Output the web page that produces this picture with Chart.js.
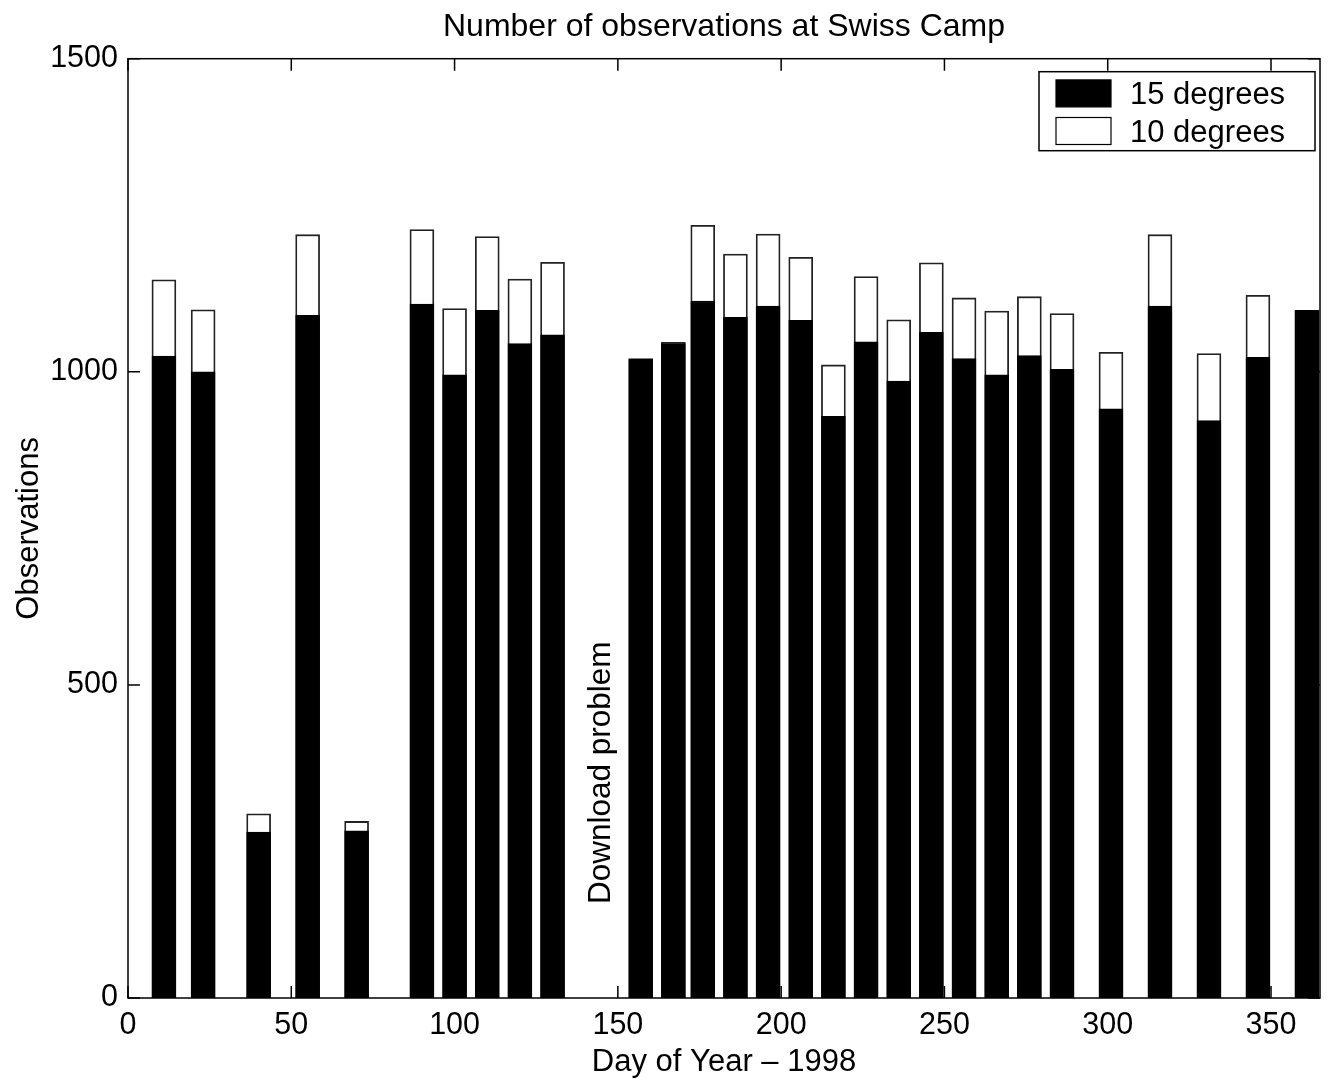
<!DOCTYPE html>
<html lang="en">
<head>
  <meta charset="UTF-8">
  <title>Number of observations at Swiss Camp</title>
  <script src="https://cdn.jsdelivr.net/npm/chart.js"></script>
  <style>
    body {
      margin: 0;
      background: #fff;
    }
    #wrap {
      width: 1332px;
      height: 1082px;
    }
  </style>
</head>
<body>
  <div id="wrap">
    <canvas id="obsChart" width="1332" height="1082"></canvas>
  </div>
  <script>
    // day of year for each bar
    const days = [11, 23, 40, 55, 70, 90, 100, 110, 120, 130,
                  157, 167, 176, 186, 196, 206, 216, 226, 236, 246,
                  256, 266, 276, 286, 301, 316, 331, 346, 361];
    // observations at 15 degrees (black)
    const obs15 = [1025, 1000, 265, 1090, 267, 1108, 995, 1098, 1045, 1059,
                   1020, 1045, 1113, 1087, 1105, 1082, 929, 1048, 985, 1063,
                   1021, 995, 1026, 1004, 941, 1105, 922, 1023, 1098];
    // observations at 10 degrees (white, drawn behind)
    const obs10 = [1147, 1099, 294, 1219, 282, 1227, 1101, 1216, 1148, 1175,
                   1021, 1047, 1234, 1188, 1220, 1183, 1011, 1152, 1083, 1174,
                   1118, 1097, 1120, 1093, 1031, 1219, 1029, 1122, 1098];
    const xTicks = [0, 50, 100, 150, 200, 250, 300, 350];
    const yTicks = [0, 500, 1000, 1500];
    const note = { x: 145, y: 150, text: 'Download problem' };

    const FONT = "'Liberation Sans', Arial, Helvetica, sans-serif";

    // box, inward tick marks, legend and the text note
    const framePlugin = {
      id: 'frame',
      afterDatasetsDraw(chart) {
        const ctx = chart.ctx;
        const a = chart.chartArea;
        const xs = chart.scales.x;
        const ys = chart.scales.y;
        const tl = 12;
        ctx.save();
        ctx.strokeStyle = '#000';
        ctx.lineWidth = 1.5;
        ctx.strokeRect(a.left, a.top, a.right - a.left, a.bottom - a.top);

        ctx.beginPath();
        xTicks.forEach(v => {
          const px = xs.getPixelForValue(v);
          ctx.moveTo(px, a.bottom); ctx.lineTo(px, a.bottom - tl);
          ctx.moveTo(px, a.top); ctx.lineTo(px, a.top + tl);
        });
        yTicks.forEach(v => {
          const py = ys.getPixelForValue(v);
          ctx.moveTo(a.left, py); ctx.lineTo(a.left + tl, py);
          ctx.moveTo(a.right, py); ctx.lineTo(a.right - tl, py);
        });
        ctx.stroke();

        // note
        ctx.save();
        ctx.translate(xs.getPixelForValue(note.x), ys.getPixelForValue(note.y));
        ctx.rotate(-Math.PI / 2);
        ctx.font = '31.5px ' + FONT;
        ctx.fillStyle = '#000';
        ctx.textAlign = 'left';
        ctx.textBaseline = 'middle';
        ctx.fillText(note.text, 0, 0);
        ctx.restore();

        // legend
        const bw = 276, bh = 79;
        const bx = a.right - 5 - bw;
        const by = a.top + 13;
        ctx.fillStyle = '#fff';
        ctx.fillRect(bx, by, bw, bh);
        ctx.strokeRect(bx, by, bw, bh);
        const rows = [by + 21.7, by + 59.3];
        chart.data.datasets.forEach((ds, i) => {
          const cy = rows[i];
          ctx.fillStyle = ds.backgroundColor;
          ctx.fillRect(bx + 17, cy - 13.5, 55, 27);
          ctx.lineWidth = 1.2;
          ctx.strokeRect(bx + 17, cy - 13.5, 55, 27);
          ctx.fillStyle = '#000';
          ctx.font = '31px ' + FONT;
          ctx.textAlign = 'left';
          ctx.textBaseline = 'middle';
          ctx.fillText(ds.label, bx + 91, cy + 2);
        });
        ctx.restore();
      }
    };

    const ctx = document.getElementById('obsChart').getContext('2d');
    new Chart(ctx, {
      type: 'bar',
      data: {
        datasets: [{
          label: '15 degrees',
          data: days.map((d, i) => ({ x: d, y: obs15[i] })),
          backgroundColor: '#000',
          borderColor: '#000',
          borderWidth: 1.5,
          barThickness: 24,
          grouped: false
        }, {
          label: '10 degrees',
          data: days.map((d, i) => ({ x: d, y: obs10[i] })),
          backgroundColor: '#fff',
          borderColor: '#222',
          borderWidth: 1.8,
          barThickness: 24,
          grouped: false
        }]
      },
      options: {
        responsive: false,
        animation: false,
        layout: { padding: { left: 0, right: 12, top: 0, bottom: 0 } },
        plugins: {
          legend: { display: false },
          tooltip: { enabled: false },
          title: {
            display: true,
            fullSize: false,
            text: 'Number of observations at Swiss Camp',
            color: '#000',
            font: { family: FONT, size: 32, weight: 'normal' },
            padding: { top: 8, bottom: 12.3 }
          }
        },
        scales: {
          x: {
            type: 'linear',
            min: 0,
            max: 365,
            offset: false,
            grid: { display: false, drawTicks: false },
            border: { display: false },
            afterBuildTicks: s => { s.ticks = xTicks.map(v => ({ value: v })); },
            afterFit: s => { s.height = 84; },
            ticks: {
              color: '#000',
              padding: 9,
              maxRotation: 0,
              font: { family: FONT, size: 30.5 },
              callback: v => String(v)
            },
            title: {
              display: true,
              text: 'Day of Year \u2013 1998',
              color: '#000',
              font: { family: FONT, size: 31 },
              padding: { top: 0, bottom: 1 }
            }
          },
          y: {
            min: 0,
            max: 1500,
            grid: { display: false, drawTicks: false },
            border: { display: false },
            afterBuildTicks: s => { s.ticks = yTicks.map(v => ({ value: v })); },
            afterFit: s => { s.width = 128; },
            ticks: {
              color: '#000',
              padding: 10,
              font: { family: FONT, size: 30.5 },
              callback: v => String(v)
            },
            title: {
              display: true,
              text: 'Observations',
              color: '#000',
              font: { family: FONT, size: 31 },
              padding: { top: 11, bottom: 0 }
            }
          }
        }
      },
      plugins: [framePlugin]
    });
  </script>
</body>
</html>
